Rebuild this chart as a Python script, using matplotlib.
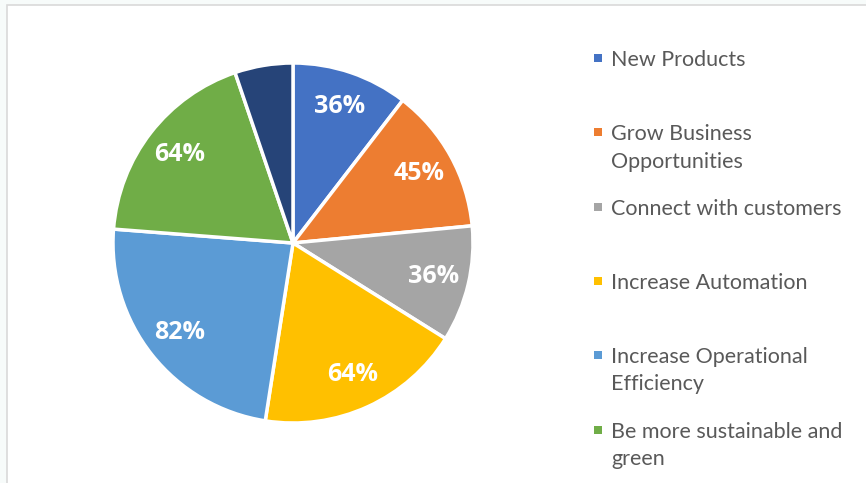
import matplotlib.pyplot as plt
from matplotlib.patches import Rectangle

# survey shares per goal (last dark slice has no label / legend slot on screen)
categories = ["New Products", "Grow Business\nOpportunities", "Connect with customers",
              "Increase Automation", "Increase Operational\nEfficiency",
              "Be more sustainable and\ngreen"]
values = [36, 45, 36, 64, 82, 64, 18]
value_labels = ["36%", "45%", "36%", "64%", "82%", "64%", ""]
colors = ["#4472C4", "#ED7D31", "#A5A5A5", "#FFC000", "#5B9BD5", "#70AD47", "#264478"]

W, H = 866, 483
fig = plt.figure(figsize=(W / 100, H / 100), dpi=100)
fig.patch.set_facecolor("#F7FBFA")

# chart area with thin grey border
fig.patches.append(Rectangle((7 / W, -0.1), 1.1, (H - 5) / H + 0.1, transform=fig.transFigure,
                             facecolor="white", edgecolor="#D9D9D9", linewidth=1.2,
                             zorder=-5))

cx, cy, r = 293, 243, 180
ax = fig.add_axes([(cx - r) / W, (H - cy - r) / H, 2 * r / W, 2 * r / H])
ax.set_zorder(2)
ax.patch.set_alpha(0)
wedges, texts = ax.pie(values, colors=colors, startangle=90, counterclock=False,
                       labels=value_labels, labeldistance=0.8,
                       wedgeprops=dict(edgecolor="white", linewidth=2.5, clip_on=False),
                       textprops=dict(color="white", fontsize=18, fontweight="bold",
                                      family="Open Sans"))
for t in texts:
    t.set_ha("center")
    t.set_va("center")
ax.set_xlim(-1, 1)
ax.set_ylim(-1, 1)
ax.set_aspect("equal")

# legend: equal slots, text hangs from the top of each slot
top, pitch = 58, 74.3
for i, name in enumerate(categories):
    y = top + i * pitch
    fig.patches.append(Rectangle((594 / W, 1 - (y + 4) / H), 8 / W, 8 / H,
                                 transform=fig.transFigure, facecolor=colors[i],
                                 edgecolor="none"))
    fig.text(611 / W, 1 - (y - 8) / H, name, ha="left", va="top", fontsize=15.5,
             family="Lato", color="#595959", linespacing=1.45)

fig.savefig("out.png", dpi=100, facecolor=fig.get_facecolor())
